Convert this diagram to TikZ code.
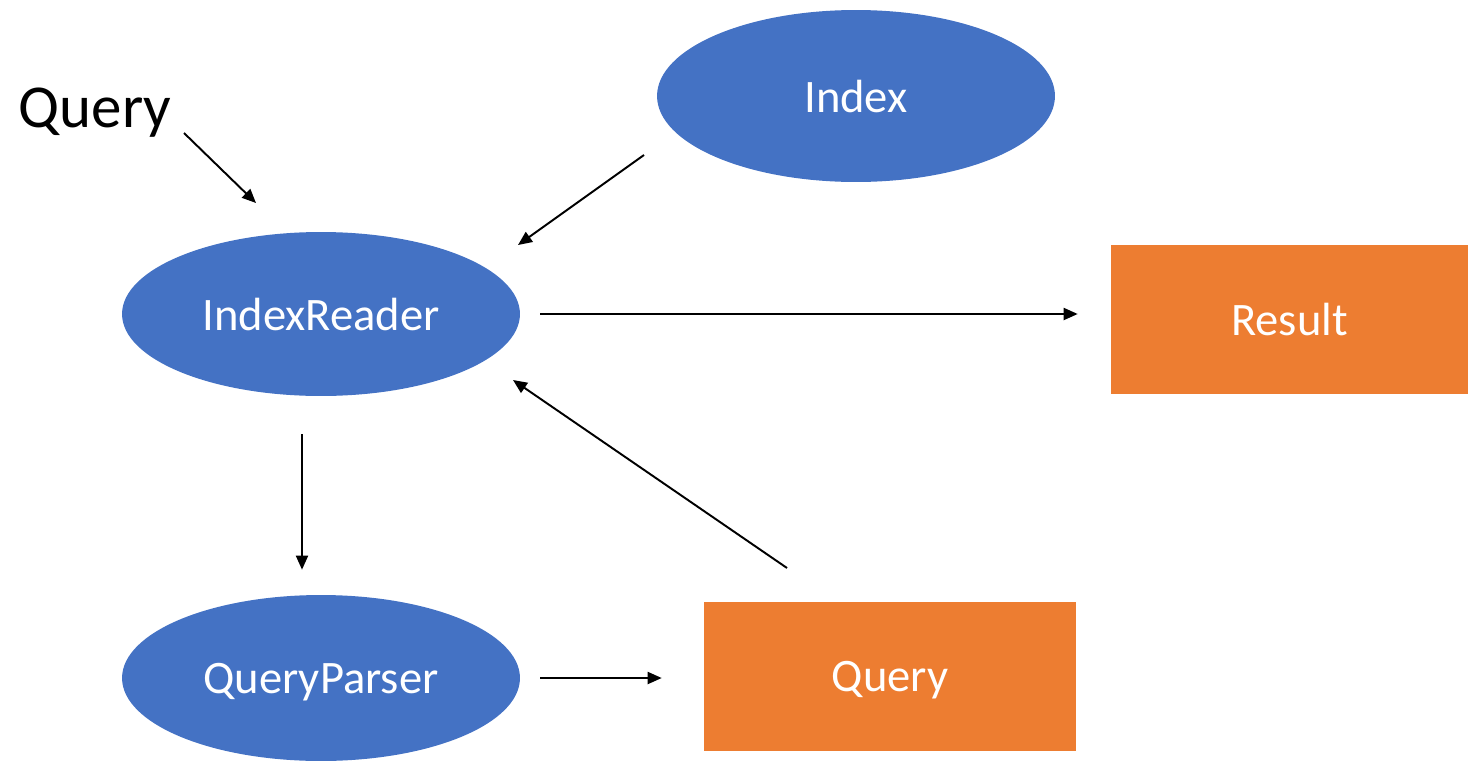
\documentclass[tikz,border=0pt]{standalone}
\usepackage{fontspec}
\setmainfont{Carlito}
\usetikzlibrary{shapes.geometric,arrows.meta}
\definecolor{nodeblue}{HTML}{4472C4}
\definecolor{boxorange}{HTML}{ED7D31}
\begin{document}
\begin{tikzpicture}[x=0.02cm, y=-0.02cm,
        blob/.style={ellipse, fill=nodeblue, draw=none, text=white, text depth=0pt, font=\fontsize{26.5}{32}\selectfont},
        box/.style={rectangle, fill=boxorange, draw=none, text=white, text depth=0pt, font=\fontsize{26.5}{32}\selectfont},
        arr/.style={-{Triangle[length=0.28cm, width=0.24cm]}, line width=1.1pt}]
    \useasboundingbox (0,0) rectangle (1468,761);

    \node (idx) [blob, minimum width=7.96cm, minimum height=3.44cm] at (856,96) {Index};
    \node (ir)  [blob, minimum width=7.96cm, minimum height=3.28cm] at (321,314) {IndexReader};
    \node (qp)  [blob, minimum width=7.96cm, minimum height=3.32cm] at (321,678) {QueryParser};
    \node (res) [box, minimum width=7.14cm, minimum height=2.98cm] at (1289.5,319.5) {Result};
    \node (qry) [box, minimum width=7.44cm, minimum height=2.98cm] at (890,676.5) {Query};
    \node (qin) at (95,113) {\fontsize{34.7}{40}\selectfont Query};

    % free ends of the slanted arrows
    \coordinate (qin-out) at (184,133);
    \coordinate (ir-nw)   at (256,203);
    \coordinate (idx-out) at (644,155);
    \coordinate (ir-ne)   at (518,245);
    \coordinate (qry-out) at (787,568);
    \coordinate (ir-se)   at (513,380);

    \draw[arr] (qin-out) -- (ir-nw);
    \draw[arr] (idx-out) -- (ir-ne);
    \draw[arr, shorten <=0.4cm, shorten >=0.66cm] (ir.east) -- (ir.east -| res.west);
    \draw[arr, shorten <=0.76cm, shorten >=0.5cm] ([xshift=-0.38cm]ir.south) -- ([xshift=-0.38cm]qp.north);
    \draw[arr, shorten <=0.4cm, shorten >=0.84cm] (qp.east) -- (qp.east -| qry.west);
    \draw[arr] (qry-out) -- (ir-se);
\end{tikzpicture}
\end{document}
